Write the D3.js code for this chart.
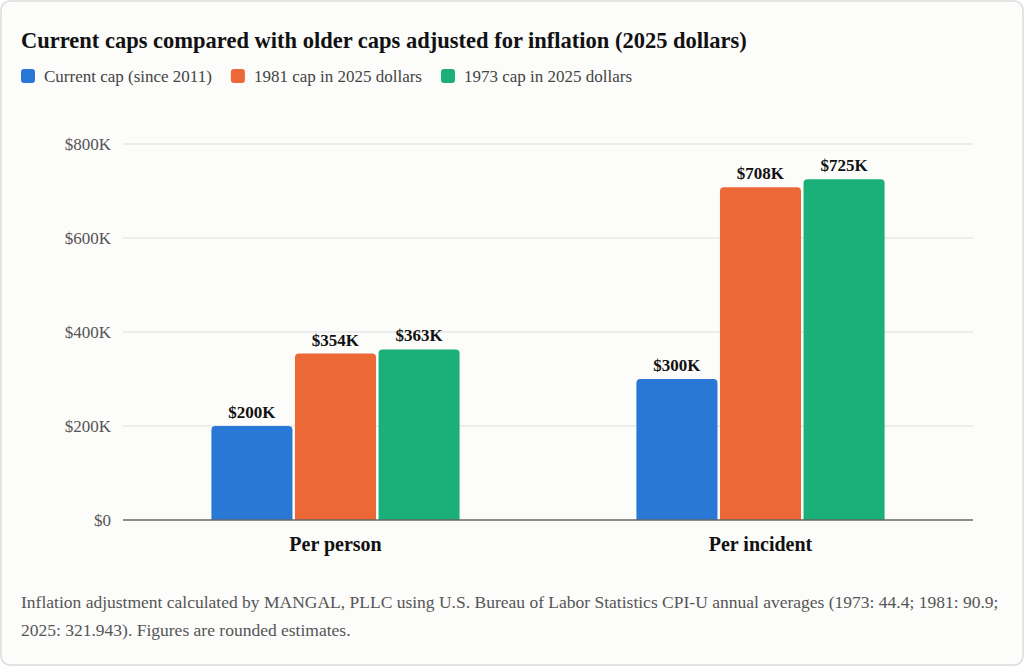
<!DOCTYPE html>
<html><head><meta charset="utf-8">
<script src="https://cdn.jsdelivr.net/npm/d3@7"></script>
<style>
html,body{margin:0;padding:0;background:#fff;}
body{width:1024px;height:666px;overflow:hidden;font-family:"Liberation Serif",serif;}
</style></head>
<body><svg id="c" width="1024" height="666"></svg>
<script>
const categories = ["Per person", "Per incident"];
const seriesNames = ["Current cap (since 2011)", "1981 cap in 2025 dollars", "1973 cap in 2025 dollars"];
const currentCap = [200, 300];
const cap1981 = [354, 708];
const cap1973 = [363, 725];
const seriesValues = [currentCap, cap1981, cap1973];
const colors = ["#2a78d6", "#ec6836", "#1bb07a"];
const yTicks = [0, 200, 400, 600, 800];
const title = "Current caps compared with older caps adjusted for inflation (2025 dollars)";
const footer = ["Inflation adjustment calculated by MANGAL, PLLC using U.S. Bureau of Labor Statistics CPI-U annual averages (1973: 44.4; 1981: 90.9;",
  "2025: 321.943). Figures are rounded estimates."];

const svg = d3.select("#c");
svg.append("rect").attr("x",1).attr("y",1).attr("width",1022).attr("height",664)
  .attr("rx",9).attr("fill","#fcfcfb").attr("stroke","#dcdcdc").attr("stroke-width",1.5);

svg.append("text").attr("x",21).attr("y",48).text(title)
  .attr("font-size",22.5).attr("font-weight","bold").attr("fill","#111");

// legend
const lg = svg.append("g");
let lx = 21;
seriesNames.forEach((n,i)=>{
  const g = lg.append("g").attr("transform",`translate(${lx},0)`);
  g.append("rect").attr("x",0).attr("y",69).attr("width",14).attr("height",14).attr("rx",3).attr("fill",colors[i]);
  const t = g.append("text").attr("x",23).attr("y",82).text(n).attr("font-size",17).attr("fill","#444");
  lx += 23 + t.node().getComputedTextLength() + 19;
});

const m = {l:123, r:973, t:144, b:520};
const x0 = d3.scaleBand().domain(categories).range([m.l,m.r]).paddingInner(0.416).paddingOuter(0.208);
const x1 = d3.scaleBand().domain(d3.range(3)).range([0,x0.bandwidth()]).paddingInner(0.03);
const y = d3.scaleLinear().domain([0,800]).range([m.b,m.t]);

const grid = svg.append("g");
grid.selectAll("line").data(yTicks.filter(d=>d>0)).join("line")
  .attr("x1",m.l).attr("x2",m.r).attr("y1",d=>y(d)).attr("y2",d=>y(d))
  .attr("stroke","#dcdcdc").attr("stroke-width",1);

const yAxis = svg.append("g").attr("transform",`translate(${m.l},0)`)
  .call(d3.axisLeft(y).tickValues(yTicks).tickSize(0).tickPadding(12).tickFormat(d=>"$"+(d===0?"0":d+"K")));
yAxis.select(".domain").remove();
yAxis.selectAll("text").attr("font-family","Liberation Serif, serif").attr("font-size",17).attr("fill","#555");

const groups = svg.append("g").selectAll("g").data(categories).join("g")
  .attr("transform",d=>`translate(${x0(d)},0)`);
groups.each(function(c,ci){
  const g = d3.select(this);
  seriesValues.forEach((vals,si)=>{
    const v = vals[ci];
    const bx = x1(si), bw = x1.bandwidth(), by = y(v), bh = y(0)-y(v), r = 4;
    g.append("path").attr("fill",colors[si])
      .attr("d",`M${bx},${by+bh}V${by+r}Q${bx},${by} ${bx+r},${by}H${bx+bw-r}Q${bx+bw},${by} ${bx+bw},${by+r}V${by+bh}Z`);
    g.append("text").attr("x",bx+bw/2).attr("y",by-8).attr("text-anchor","middle")
      .attr("font-size",17).attr("font-weight","bold").attr("fill","#111").text("$"+v+"K");
  });
});

svg.append("line").attr("x1",m.l).attr("x2",m.r).attr("y1",y(0)).attr("y2",y(0))
  .attr("stroke","#666").attr("stroke-width",1.5);

const xAxis = svg.append("g").attr("transform",`translate(0,${m.b})`)
  .call(d3.axisBottom(x0).tickSize(0).tickPadding(17));
xAxis.select(".domain").remove();
xAxis.selectAll("text").attr("font-family","Liberation Serif, serif").attr("font-size",20).attr("font-weight","bold").attr("fill","#111");

footer.forEach((l,i)=>{
  svg.append("text").attr("x",21).attr("y",608+i*28).text(l).attr("font-size",17.5).attr("fill","#555");
});
</script></body></html>
